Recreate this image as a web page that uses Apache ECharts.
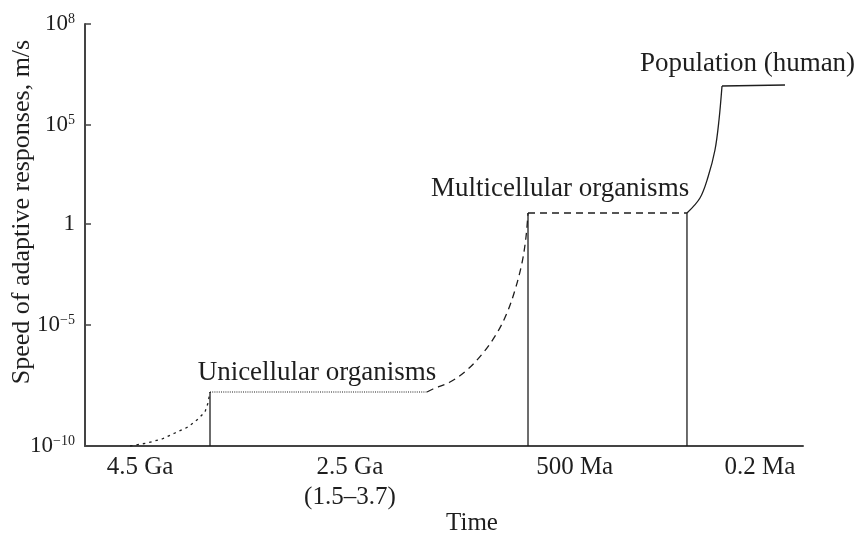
<!DOCTYPE html>
<html>
<head>
<meta charset="utf-8">
<script src="https://cdn.jsdelivr.net/npm/echarts@6/dist/echarts.min.js"></script>
<style>
html,body{margin:0;padding:0;background:#fff;}
#chart{width:859px;height:535px;}
</style>
</head>
<body>
<div id="chart"></div>
<script>
// Schematic axes: x = relative time position (0..100), y = schematic speed scale
const xLabelValues = [7.66, 36.9, 68.2, 94.0];
const xLabels = ['4.5 Ga', '2.5 Ga\n(1.5–3.7)', '500 Ma', '0.2 Ma'];
const yTickValues = [0, 1.21, 2.22, 3.21, 4.22];
const yTickExps = ['−10', '−5', '', '5', '8'];

// Unicellular rise (dotted)
const uniRise = [[6.27,0],[8.64,0.03],[10.72,0.07],[12.53,0.13],[14.35,0.19],[15.74,0.27],[16.71,0.34],[17.13,0.43],[17.41,0.54]];
// Unicellular plateau (fine dotted)
const uniFlat = [[17.41,0.54],[47.63,0.54]];
// Multicellular rise (dashed)
const multiRise = [[47.63,0.54],[48.47,0.57],[50.84,0.64],[53.20,0.76],[55.43,0.93],[57.38,1.13],[58.77,1.33],[59.89,1.56],[60.86,1.83],[61.42,2.09],[61.70,2.33]];
// Multicellular plateau (dashed)
const multiFlat = [[61.70,2.33],[83.84,2.33]];
// Population rise (solid)
const popRise = [[83.84,2.33],[85.65,2.48],[86.77,2.69],[87.74,2.96],[88.30,3.26],[88.72,3.60]];
// Population plateau (solid)
const popFlat = [[88.72,3.60],[97.49,3.61]];
// Vertical transitions
const vLine1 = [[17.41,0],[17.41,0.54]];
const vLine2 = [[61.70,0],[61.70,2.33]];
const vLine3 = [[83.84,0],[83.84,2.33]];
// Annotations
const annotations = [
  {name:'Unicellular organisms', value:[32.38,0.73]},
  {name:'Multicellular organisms', value:[66.23,2.57]},
  {name:'Population (human)', value:[92.34,3.82]}
];

const FONT = 'Liberation Serif';
const INK = '#1e1e1e';

function lineSeries(data, type, width){
  return {type:'line', data:data, symbol:'none', smooth:false, silent:true,
    lineStyle:{color:INK, width:width||1.3, type:type||'solid'}, z:3};
}
function smoothSeries(data, type){
  const s = lineSeries(data, type);
  s.smooth = 0.35;
  return s;
}

const chart = echarts.init(document.getElementById('chart'), null, {renderer:'canvas'});
chart.setOption({
  animation:false,
  backgroundColor:'#fff',
  grid:{left:85, right:56, top:24, bottom:89, containLabel:false, outerBoundsMode:'none'},
  xAxis:{
    type:'value', min:0, max:100,
    axisLine:{show:true, lineStyle:{color:'#444', width:2}},
    axisTick:{show:false},
    splitLine:{show:false},
    axisLabel:{
      customValues:xLabelValues,
      formatter:function(v){
        let best=0, d=1e9;
        xLabelValues.forEach((x,i)=>{ if(Math.abs(x-v)<d){d=Math.abs(x-v);best=i;} });
        return xLabels[best];
      },
      fontFamily:FONT, fontSize:25, color:INK, lineHeight:30, margin:6
    },
    name:'Time', nameLocation:'middle', nameGap:65, nameMoveOverlap:false,
    nameTextStyle:{fontFamily:FONT, fontSize:25, color:INK, padding:[0,0,0,56]}
  },
  yAxis:{
    type:'value', min:0, max:4.22,
    axisLine:{show:true, lineStyle:{color:'#444', width:2}},
    axisTick:{show:true, inside:true, length:6, customValues:yTickValues, lineStyle:{color:'#444', width:1.5}},
    splitLine:{show:false},
    axisLabel:{
      customValues:yTickValues,
      formatter:function(v){
        let best=0, d=1e9;
        yTickValues.forEach((y,i)=>{ if(Math.abs(y-v)<d){d=Math.abs(y-v);best=i;} });
        const e = yTickExps[best];
        return e==='' ? '{b|1}' : '{b|10}{s|'+e+'}';
      },
      margin:10,
      rich:{
        b:{fontFamily:FONT, fontSize:23, color:INK},
        s:{fontFamily:FONT, fontSize:14, color:INK, verticalAlign:'top'}
      }
    },
    name:'Speed of adaptive responses, m/s', nameLocation:'middle', nameGap:50, nameMoveOverlap:false,
    nameTextStyle:{fontFamily:FONT, fontSize:26, color:INK, padding:[0,0,0,46]}
  },
  series:[
    lineSeries(uniRise, [2.5,4]),
    lineSeries(uniFlat, [1,1.2], 1.1),
    smoothSeries(multiRise, [7,5]),
    lineSeries(multiFlat, [7,5]),
    smoothSeries(popRise, 'solid'),
    lineSeries(popFlat, 'solid'),
    lineSeries(vLine1, 'solid'),
    lineSeries(vLine2, 'solid'),
    lineSeries(vLine3, 'solid'),
    {type:'scatter', data:annotations, symbolSize:1, silent:true,
      itemStyle:{color:'rgba(0,0,0,0)', opacity:1},
      label:{show:true, position:[0,0], align:'center', verticalAlign:'middle', formatter:'{b}',
        fontFamily:FONT, fontSize:27, color:INK, opacity:1, textBorderWidth:0}, z:5}
  ]
});
</script>
</body>
</html>
